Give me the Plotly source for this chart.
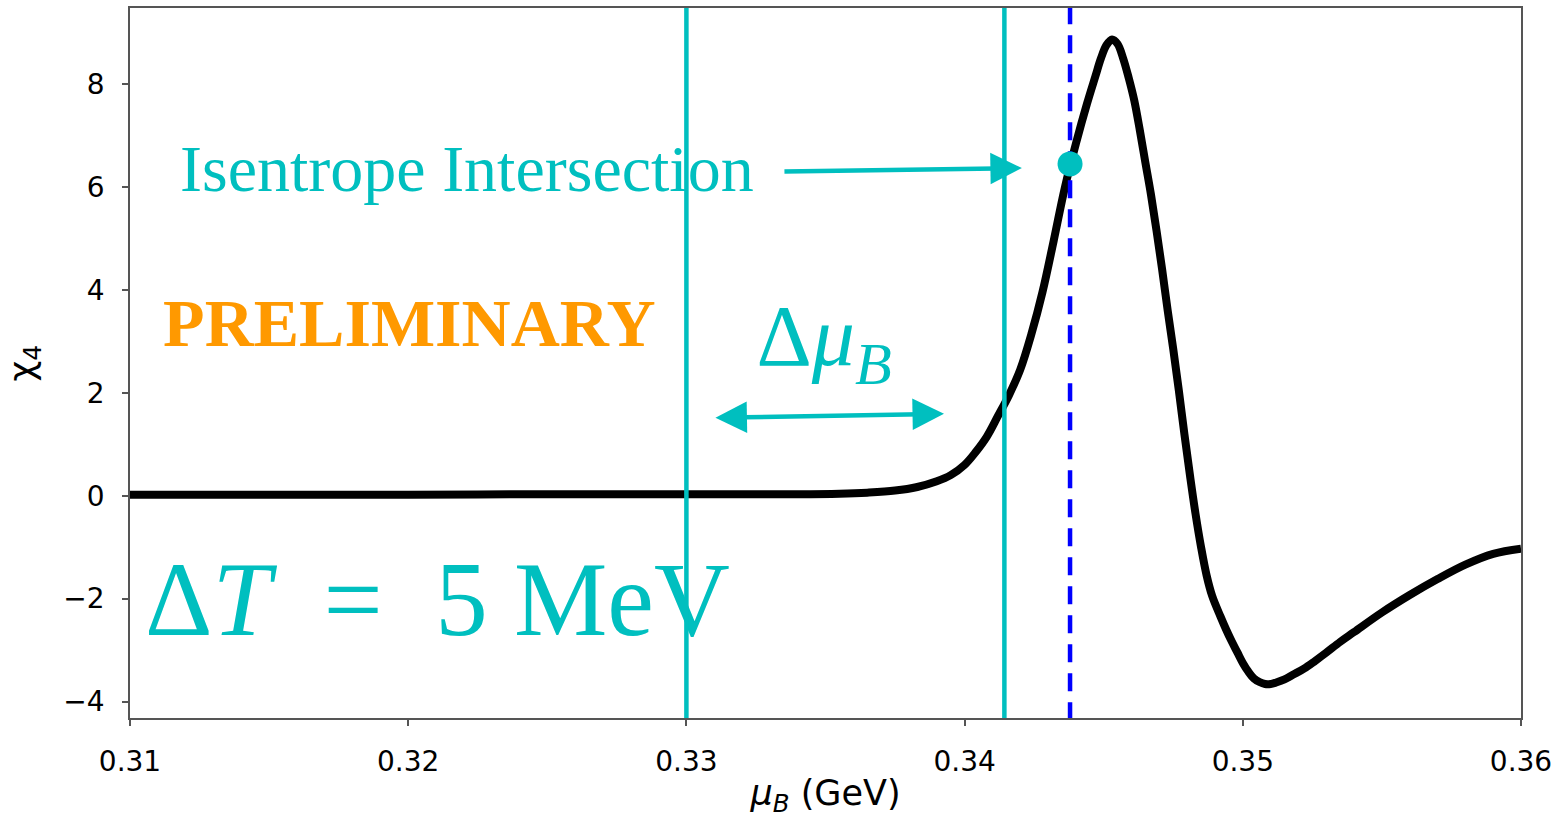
import plotly.graph_objects as go

# ---- data ----
mu_B = [0.3100, 0.3150, 0.3200, 0.3250, 0.3300, 0.3340, 0.3355, 0.3365, 0.3375,
        0.3383, 0.3390, 0.3395, 0.3400, 0.3404, 0.3408, 0.3412, 0.3416, 0.3420,
        0.3424, 0.3428, 0.3432, 0.3436, 0.3440, 0.3444, 0.3447, 0.3449, 0.3451,
        0.3453, 0.3455, 0.3457, 0.3459, 0.3461, 0.3463, 0.3465, 0.3467, 0.3469,
        0.3471, 0.3473, 0.3475, 0.3477, 0.3479, 0.3481, 0.3483, 0.3485, 0.3487,
        0.3489, 0.3492, 0.3494, 0.3496, 0.3498, 0.3500, 0.3502, 0.3504, 0.3506,
        0.3508, 0.3510, 0.3512, 0.3515, 0.3518, 0.3522, 0.3526, 0.3530, 0.3535,
        0.3540, 0.3550, 0.3560, 0.3570, 0.3580, 0.3590, 0.3600]
chi4 = [0.02, 0.02, 0.02, 0.03, 0.03, 0.03, 0.04, 0.06, 0.10,
        0.17, 0.28, 0.40, 0.60, 0.85, 1.15, 1.55, 1.96, 2.45,
        3.14, 3.96, 4.95, 5.98, 6.84, 7.62, 8.15, 8.50, 8.76,
        8.87, 8.78, 8.50, 8.12, 7.68, 7.10, 6.47, 5.85, 5.15,
        4.40, 3.60, 2.85, 2.05, 1.20, 0.40, -0.35, -1.00, -1.55,
        -1.95, -2.35, -2.60, -2.83, -3.04, -3.25, -3.42, -3.55, -3.62,
        -3.66, -3.66, -3.63, -3.57, -3.48, -3.36, -3.21, -3.05, -2.84,
        -2.65, -2.27, -1.93, -1.62, -1.34, -1.13, -1.03]

vlines_cyan = [0.3300, 0.34143]
vline_blue = 0.34379
intersection = (0.34379, 6.45)

x_ticks = [0.31, 0.32, 0.33, 0.34, 0.35, 0.36]
x_ticklabels = ["0.31", "0.32", "0.33", "0.34", "0.35", "0.36"]
y_ticks = [-4, -2, 0, 2, 4, 6, 8]
y_ticklabels = ["\u22124", "\u22122", "0", "2", "4", "6", "8"]

x_range = [0.31, 0.36]
y_range = [-4.32, 9.48]

CYAN = "#00BFBF"
BLUE = "#0000FF"
ORANGE = "#FF9900"

fig = go.Figure()

# main curve
fig.add_trace(go.Scatter(x=mu_B, y=chi4, mode="lines",
                         line=dict(color="black", width=8, shape="spline", smoothing=1.0),
                         hoverinfo="skip"))

# texts (drawn under vertical lines)
fig.add_trace(go.Scatter(x=[0.3118], y=[6.25], mode="text",
                         text=["Isentrope Intersection"], textposition="middle right",
                         textfont=dict(family="Liberation Serif", size=66, color=CYAN),
                         hoverinfo="skip"))
fig.add_trace(go.Scatter(x=[0.31119], y=[3.25], mode="text",
                         text=["<b>PRELIMINARY</b>"], textposition="middle right",
                         textfont=dict(family="Liberation Serif", size=68, color=ORANGE),
                         hoverinfo="skip"))
fig.add_trace(go.Scatter(x=[0.31054], y=[-2.2], mode="text",
                         text=["\u0394<i>T</i>\u2002=\u20025 MeV"], textposition="middle right",
                         textfont=dict(family="Liberation Serif", size=105, color=CYAN),
                         hoverinfo="skip"))
fig.add_trace(go.Scatter(x=[0.33495], y=[2.95], mode="text",
                         text=["\u0394<i>\u03bc</i><sub><i>B</i></sub>"], textposition="middle center",
                         textfont=dict(family="Liberation Serif", size=86, color=CYAN),
                         hoverinfo="skip"))

# vertical lines
for v in vlines_cyan:
    fig.add_trace(go.Scatter(x=[v, v], y=[-10, 20], mode="lines",
                             line=dict(color=CYAN, width=4.5), hoverinfo="skip"))
fig.add_trace(go.Scatter(x=[vline_blue, vline_blue], y=[-10, 20], mode="lines",
                         line=dict(color=BLUE, width=4.5, dash="18px,11px"), hoverinfo="skip"))

# intersection point
fig.add_trace(go.Scatter(x=[intersection[0]], y=[intersection[1]], mode="markers",
                         marker=dict(color=CYAN, size=25), hoverinfo="skip"))

# arrows
fig.add_annotation(x=0.34206, y=6.37, ax=0.33347, ay=6.30, xref="x", yref="y",
                   axref="x", ayref="y", text="", showarrow=True,
                   arrowhead=2, arrowsize=1.4, arrowwidth=4.5, arrowcolor=CYAN)
fig.add_annotation(x=0.33926, y=1.593, ax=0.33099, ay=1.515, xref="x", yref="y",
                   axref="x", ayref="y", text="", showarrow=True,
                   arrowhead=2, startarrowhead=2, arrowside="end+start",
                   arrowsize=1.4, startarrowsize=1.4, arrowwidth=4.5, arrowcolor=CYAN)

axis_common = dict(showline=True, mirror=True, linecolor="#555555", linewidth=1.5,
                   showgrid=False, zeroline=False, ticks="outside", ticklen=6,
                   tickcolor="#555555", tickwidth=1.5,
                   tickfont=dict(family="DejaVu Sans", size=28, color="black"))

fig.update_layout(
    width=1565, height=818,
    margin=dict(l=130, r=44, t=6, b=100),
    paper_bgcolor="white", plot_bgcolor="white",
    showlegend=False,
    xaxis=dict(range=x_range, tickvals=x_ticks, ticktext=x_ticklabels,
               title=dict(text="<i>\u03bc</i><sub><i>B</i></sub> (GeV)",
                          font=dict(family="DejaVu Sans", size=35, color="black"),
                          standoff=4),
               ticklabelstandoff=12, **axis_common),
    yaxis=dict(range=y_range, tickvals=y_ticks, ticktext=y_ticklabels,
               title=dict(text="\u03c7<sub>4</sub>",
                          font=dict(family="DejaVu Sans", size=36, color="black"),
                          standoff=18),
               ticklabelstandoff=12, **axis_common),
)

fig.write_html("out.html", config={"displayModeBar": False})
